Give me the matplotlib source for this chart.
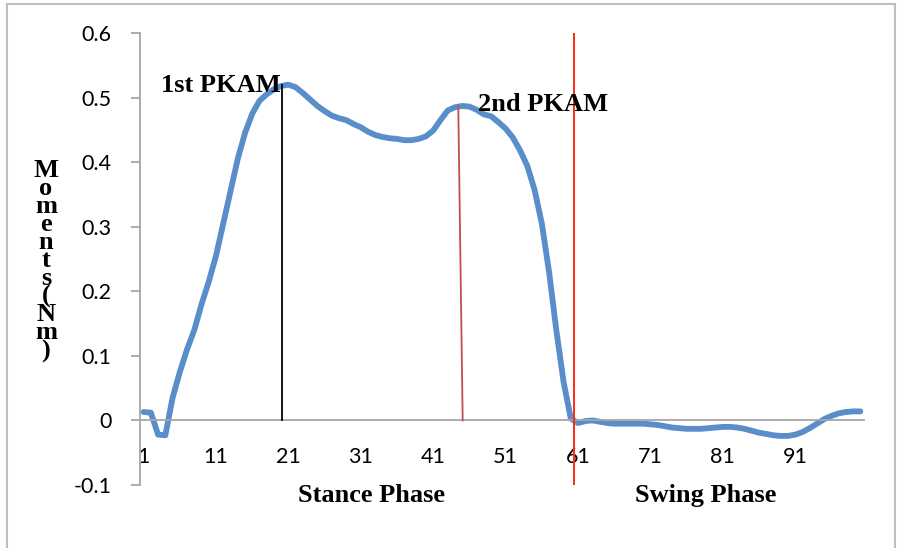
import matplotlib
matplotlib.use('Agg')
import matplotlib.pyplot as plt
import matplotlib.patches as patches

# knee moment over the gait cycle (1..100 %)
moments = [
    0.013, 0.012, -0.022, -0.023, 0.035, 0.075, 0.110, 0.140, 0.180, 0.215,
    0.255, 0.305, 0.355, 0.405, 0.445, 0.475, 0.495, 0.505, 0.513, 0.518,
    0.520, 0.516, 0.507, 0.497, 0.487, 0.479, 0.472, 0.468, 0.465, 0.459,
    0.454, 0.447, 0.442, 0.439, 0.437, 0.436, 0.434, 0.434, 0.436, 0.440,
    0.449, 0.465, 0.480, 0.485, 0.487, 0.486, 0.481, 0.474, 0.471, 0.462,
    0.452, 0.438, 0.418, 0.394, 0.357, 0.305, 0.230, 0.140, 0.060, 0.003,
    -0.004, -0.001, 0.000, -0.002, -0.004, -0.005, -0.005, -0.005, -0.005, -0.005,
    -0.006, -0.007, -0.009, -0.011, -0.012, -0.013, -0.013, -0.013, -0.012, -0.011,
    -0.010, -0.010, -0.011, -0.013, -0.016, -0.019, -0.021, -0.023, -0.024, -0.024,
    -0.022, -0.018, -0.012, -0.005, 0.002, 0.007, 0.011, 0.013, 0.014, 0.014,
]
frames = list(range(1, len(moments) + 1))
xtick_vals = [1, 11, 21, 31, 41, 51, 61, 71, 81, 91]
ytick_vals = [-0.1, 0, 0.1, 0.2, 0.3, 0.4, 0.5, 0.6]

# peak markers: (x bottom, x top, y top)
pkam1 = (20.07, 20.07, 0.519)
pkam2 = (45.07, 44.46, 0.486)
toe_off = 60.44

fig = plt.figure(figsize=(9.01, 5.48), dpi=100)
ax = fig.add_axes([140 / 901, 1 - 485 / 548, 724 / 901, 452 / 548])

ax.plot(frames, moments, color='#5A8ECB', lw=4.2, solid_capstyle='round',
        solid_joinstyle='round', zorder=2)
ax.plot([pkam1[0], pkam1[1]], [0, pkam1[2]], color='black', lw=1.3, zorder=3)
ax.plot([pkam2[0], pkam2[1]], [0, pkam2[2]], color='#C0504D', lw=1.3, zorder=3)
ax.axvline(toe_off, color='#FF2A10', lw=1.4, zorder=3)

ax.set_xlim(0.5, 100.5)
ax.set_ylim(-0.1, 0.6)
ax.set_xticks(xtick_vals)
ax.set_xticklabels([str(v) for v in xtick_vals])
ax.set_yticks(ytick_vals)
ax.set_yticklabels(['-0.1', '0', '0.1', '0.2', '0.3', '0.4', '0.5', '0.6'])

for s in ['top', 'right']:
    ax.spines[s].set_visible(False)
ax.spines['bottom'].set_position(('data', 0))
ax.spines['bottom'].set_color('#A6A6A6')
ax.spines['left'].set_color('#A6A6A6')
ax.spines['bottom'].set_linewidth(1.3)
ax.spines['left'].set_linewidth(1.3)
ax.tick_params(axis='x', length=0, pad=19, labelsize=15.5)
ax.tick_params(axis='y', length=6.5, width=1.3, color='#A6A6A6', pad=14, labelsize=15.5)
for lab in ax.get_xticklabels() + ax.get_yticklabels():
    lab.set_fontfamily('Lato')

bold = dict(family='Liberation Serif', weight='bold', fontsize=19)
ax.text(3.4, 0.519, '1st PKAM', ha='left', va='center', **bold)
ax.text(47.2, 0.490, '2nd PKAM', ha='left', va='center', **bold)
ax.text(32.5, -0.116, 'Stance Phase', ha='center', va='center', clip_on=False, **bold)
ax.text(78.7, -0.116, 'Swing Phase', ha='center', va='center', clip_on=False, **bold)

fig.text(46 / 901, 1 - 261 / 548, '\n'.join('Moments(Nm)'), ha='center', va='center',
         multialignment='center', linespacing=0.72, family='Liberation Serif',
         weight='bold', fontsize=19)

fig.patches.append(patches.Rectangle((7 / 901, -0.05), 888 / 901, 1 - 4 / 548 + 0.05,
                                     transform=fig.transFigure, fill=False,
                                     edgecolor='#BFBFBF', lw=1.5))

fig.savefig('out.png', dpi=100)
